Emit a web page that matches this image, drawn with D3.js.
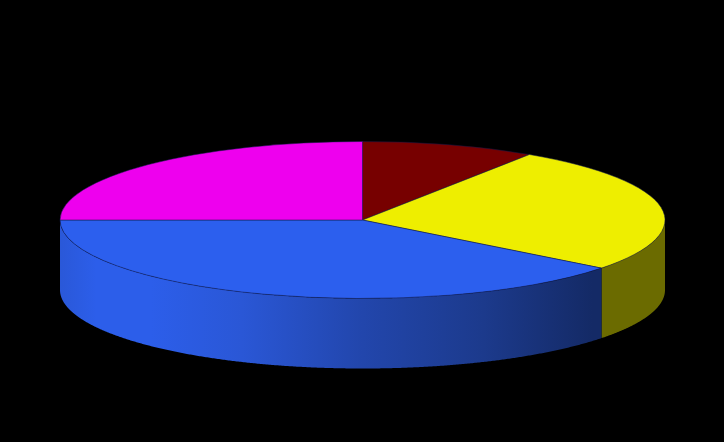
<!DOCTYPE html>
<html>
<head>
<meta charset="utf-8">
<script src="https://cdn.jsdelivr.net/npm/d3@7"></script>
<style>
html, body { margin: 0; padding: 0; background: #000; }
svg { display: block; }
</style>
</head>
<body>
<div id="chart"></div>
<script>
'use strict';

// slices, clockwise from twelve o'clock (share in percent)
const categories = ['dark red', 'yellow', 'blue', 'magenta'];
const shares = [9.3, 26.2, 39.5, 25.0];
const topColors = ['#770000', '#eeee00', '#2c5fee', '#ee00ee'];
const sideColors = ['#3b0000', '#6b6b00', 'url(#blueSide)', '#770077'];

const width = 724;
const height = 442;
const cx = 362.5;
const cy = 220;
const rx = 302.5;
const ry = 78.5;
const depth = 70;

const svg = d3.select('#chart').append('svg')
    .attr('width', width)
    .attr('height', height);

svg.append('rect')
    .attr('width', width)
    .attr('height', height)
    .attr('fill', '#000');

// wall shading of the big slice, goes dark towards the right
const grad = svg.append('defs').append('linearGradient')
    .attr('id', 'blueSide')
    .attr('gradientUnits', 'userSpaceOnUse')
    .attr('x1', cx - rx).attr('x2', cx + rx)
    .attr('y1', 0).attr('y2', 0);
[[0, '#2a58d8'], [0.06, '#2c5eea'], [0.15, '#2c5eea'], [0.3, '#2a57d6'],
 [0.5, '#2246ac'], [0.7, '#1c3a8c'], [0.88, '#142a66'], [1, '#142a66']].forEach(function(s) {
    grad.append('stop').attr('offset', s[0]).attr('stop-color', s[1]);
});

const pie = d3.pie().sort(null).value(function(d) { return d; });
const slices = pie(shares);

// unit circle mapped on to the tilted ellipse
const xScale = d3.scaleLinear().domain([-1, 1]).range([cx - rx, cx + rx]);
const yScale = d3.scaleLinear().domain([-1, 1]).range([cy - ry, cy + ry]);
const ellipsePoint = function(a, drop) {
    return [xScale(Math.sin(a)), yScale(-Math.cos(a)) + drop];
};
const line = d3.line();

// SIDE WALLS, only the front half of the disc can be seen
const wall = svg.append('g');
slices.forEach(function(s, i) {
    const a0 = Math.max(s.startAngle, Math.PI / 2);
    const a1 = Math.min(s.endAngle, Math.PI * 1.5);
    if (a1 <= a0) return;
    const angles = d3.range(a0, a1, 0.005).concat([a1]);
    const upper = angles.map(function(a) { return ellipsePoint(a, 0); });
    const lower = angles.slice().reverse().map(function(a) { return ellipsePoint(a, depth); });
    wall.append('path')
        .attr('d', line(upper.concat(lower)) + 'Z')
        .attr('fill', sideColors[i]);
});

// TOP FACE
const arc = d3.arc().innerRadius(0).outerRadius(1);
svg.append('g')
    .attr('transform', 'translate(' + cx + ',' + cy + ') scale(' + rx + ',' + ry + ')')
    .selectAll('path')
    .data(slices)
    .enter().append('path')
    .attr('d', arc)
    .attr('fill', function(d, i) { return topColors[i]; })
    .attr('stroke', '#10184a')
    .attr('stroke-width', 0.5)
    .attr('vector-effect', 'non-scaling-stroke');
</script>
</body>
</html>
